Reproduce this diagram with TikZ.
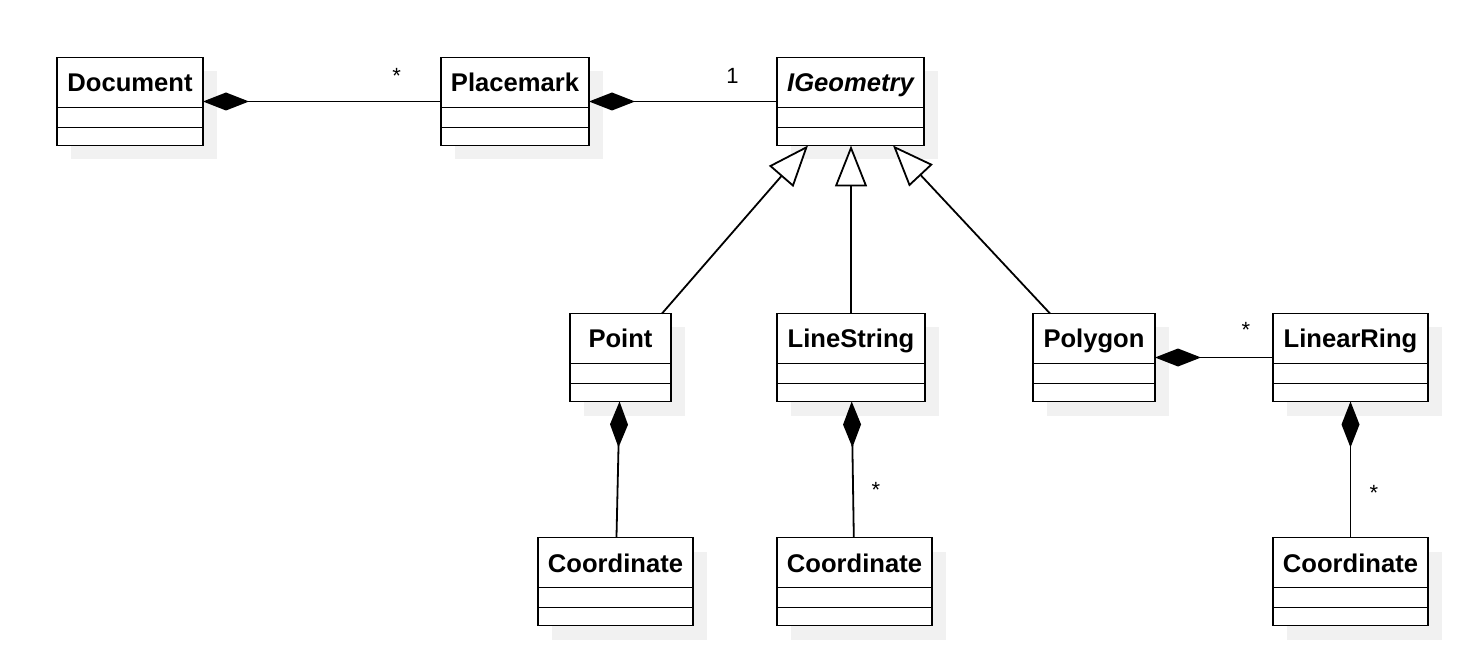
\documentclass[tikz,border=0pt]{standalone}
\usepackage{fontspec}
\setmainfont{Liberation Sans}
\usetikzlibrary{arrows.meta,shadows,calc}
\definecolor{shadowgray}{HTML}{F1F1F1}
\tikzset{
  cls/.style={draw, line width=1.9pt, fill=white, inner sep=0pt, outer sep=0pt,
    drop shadow={shadow xshift=14pt, shadow yshift=-14pt, fill=shadowgray, opacity=1}},
  clstitle/.style={anchor=base, inner sep=0pt, font=\bfseries\fontsize{25.6}{30}\selectfont},
  divider/.style={line width=1.9pt},
  mult/.style={anchor=base, inner sep=0pt, font=\fontsize{22}{26}\selectfont},
  conn/.style={line width=1.8pt},
  comp/.style={conn, arrows={{Diamond[length=46pt,width=18pt]}-}},
  inh/.style={conn, arrows={-{Triangle[open,length=41pt,width=32pt,fill=white]}}}
}
\newcommand{\umlclass}[5]{%
  \node[cls, minimum width={#3-#2}, minimum height=88] (#1) at ({(#2+#3)/2},{#4+44}) {};
  \node[clstitle] (#1-t) at ($(#1.north)+(0,34.5)$) {#5};
  \draw[divider] ($(#1.north west)+(0,50)$) -- ($(#1.north east)+(0,50)$);
  \draw[divider] ($(#1.north west)+(0,70)$) -- ($(#1.north east)+(0,70)$);
}
\begin{document}
\begin{tikzpicture}[x=1pt,y=-1pt]
\useasboundingbox (0,0) rectangle (1470,668);
% classes
\umlclass{doc}{57}{203}{57.5}{Document}
\umlclass{pm}{441}{589}{57.5}{Placemark}
\umlclass{ig}{777}{924}{57.5}{\itshape IGeometry}
\umlclass{pt}{570}{671}{313.5}{Point}
\umlclass{ls}{777}{925}{313.5}{LineString}
\umlclass{pg}{1033}{1155}{313.5}{Polygon}
\umlclass{lr}{1273}{1428}{313.5}{LinearRing}
\umlclass{ca}{538}{693}{537.5}{Coordinate}
\umlclass{cb}{777}{932}{537.5}{Coordinate}
\umlclass{cc}{1273}{1428}{537.5}{Coordinate}
% compositions
\draw[comp] (doc) -- (pm);
\draw[comp] (pm) -- (ig);
\draw[comp] (pg) -- (lr);
\draw[comp] (pt) -- (ca);
\draw[comp] (ls) -- (cb);
\draw[comp] (lr) -- (cc);
% generalisations
\draw[inh] ([xshift=-9pt]pt.north east) -- ([xshift=31pt]ig.south west);
\draw[inh] (ls.north) -- (ls.north |- ig.south);
\draw[inh] ([xshift=17pt]pg.north west) -- ([xshift=-31pt]ig.south east);
% multiplicities
\node[mult] (m1) at (396.7,84) {*};
\node[mult] (m2) at (732.5,83.5) {1};
\node[mult] (m3) at (876,497.5) {*};
\node[mult] (m4) at (1246,337.5) {*};
\node[mult] (m5) at (1374,500.5) {*};
\end{tikzpicture}
\end{document}
